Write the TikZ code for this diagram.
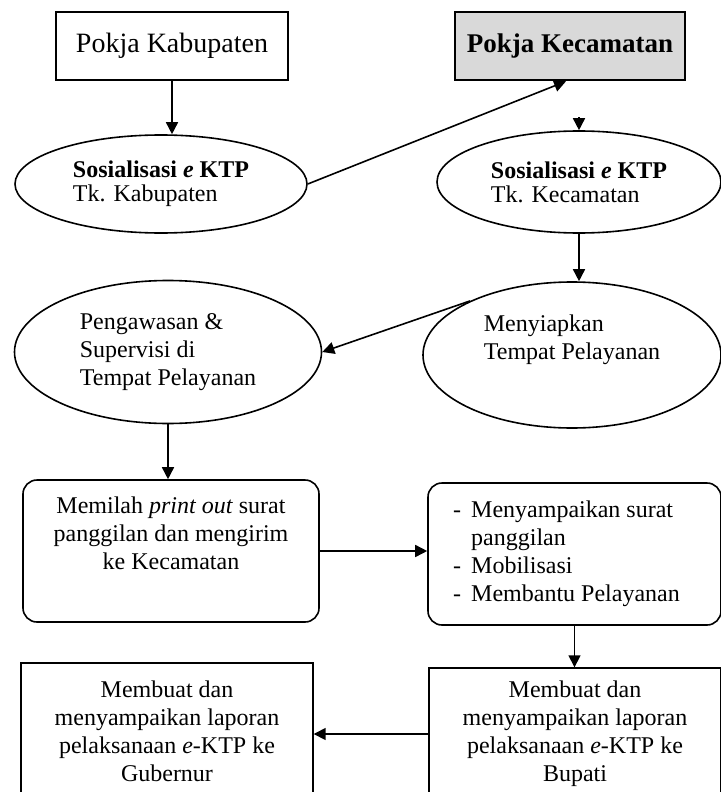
\documentclass[tikz,border=0pt]{standalone}
\usepackage{fontspec}
\setmainfont{Liberation Serif}
\usetikzlibrary{shapes.geometric}
\usetikzlibrary{arrows.meta}

\begin{document}
\begin{tikzpicture}[x=0.5pt,y=-0.5pt,line width=0.8pt,>={Triangle[length=6pt,width=6pt]},
  pokja/.style={draw,line width=1.3pt,minimum width=116pt,minimum height=34pt,font=\fontsize{14}{16}\selectfont},
  oval/.style={draw,ellipse,line width=0.8pt,align=left,font=\fontsize{12}{14}\selectfont},
  kotak/.style={draw,rounded corners=7pt,line width=0.8pt,minimum width=148pt,minimum height=71pt,font=\fontsize{12}{14}\selectfont},
  lapor/.style={draw,line width=0.7pt,minimum width=146pt,align=center,font=\fontsize{12}{14}\selectfont}]

  \useasboundingbox (0,0) rectangle (721,792);

  % tingkat kabupaten / kecamatan
  \node[pokja] at (172,46) (kab) {Pokja Kabupaten};
  \node[pokja,fill=gray!30,minimum width=115pt,font=\bfseries\fontsize{13.5}{16}\selectfont] at (570,46) (kec) {Pokja Kecamatan};

  \node[oval,minimum width=146pt,minimum height=49pt,font=\fontsize{12}{12}\selectfont] at (161,184) (kabell) {\textbf{Sosialisasi \textit{e} KTP}\\Tk. Kabupaten};
  \node[oval,minimum width=142pt,minimum height=51pt,font=\fontsize{12}{12}\selectfont] at (579,182) (kecell) {\textbf{Sosialisasi \textit{e} KTP}\\Tk. Kecamatan};

  \node[oval,minimum width=153.5pt,minimum height=71.5pt] at (168,352) (peng) {Pengawasan \&\\Supervisi di\\Tempat Pelayanan};
  \node[oval,minimum width=149pt,minimum height=73pt] at (572,355) (meny) {Menyiapkan\\Tempat Pelayanan\\\strut};

  \node[kotak,align=center] at (171,551) (pilah) {Memilah \textit{print out} surat\\panggilan dan mengirim\\ke Kecamatan\\\strut};
  \node[kotak,minimum width=146.5pt] at (574.5,554) (mobil) {\begin{tabular}{@{}l@{\hspace{5pt}}l@{\hspace{8pt}}}
    - & Menyampaikan surat\\
      & panggilan\\
    - & Mobilisasi\\
    - & Membantu Pelayanan
  \end{tabular}};

  % laporan
  \node[lapor,minimum height=66pt] at (575,734) (bupati) {Membuat dan\\menyampaikan laporan\\pelaksanaan \textit{e}-KTP ke\\Bupati};
  \node[lapor,minimum height=68.5pt] at (167,731.5) (gub) {Membuat dan\\menyampaikan laporan\\pelaksanaan \textit{e}-KTP ke\\Gubernur};

  \draw [->] (kab.south) -- (kab.south |- kabell.north);
  \draw [->] (kabell.east) -- ([xshift=-2pt]kec.south);
  \draw [->,shorten <=18pt] (kec.south -| kecell.north) -- (kecell.north);
  \draw [->] (kecell.south) -- (kecell.south |- meny.north);
  \draw [->] (meny.152) -- (peng.east);
  \draw [->] (peng.south) -- (peng.south |- pilah.north);
  \draw [->] (pilah.east) -- (pilah.east -| mobil.west);
  \draw [->] (mobil.south) -- (mobil.south |- bupati.north);
  \draw [->] (bupati.west) -- (bupati.west -| gub.east);

\end{tikzpicture}
\end{document}
